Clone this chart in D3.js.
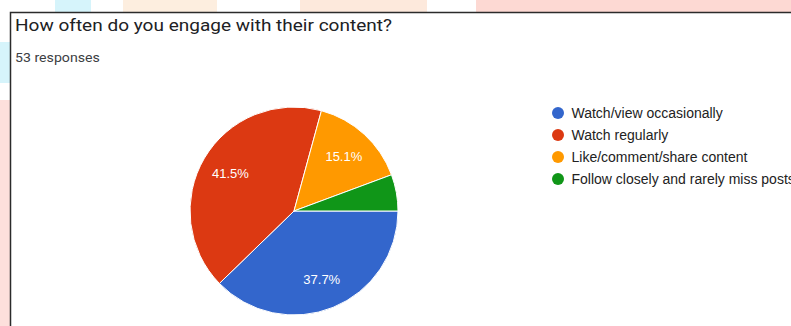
<!DOCTYPE html>
<html>
<head>
<meta charset="utf-8">
<script src="https://cdn.jsdelivr.net/npm/d3@7"></script>
<style>
  html, body { margin: 0; padding: 0; background: #fff; }
  svg { display: block; }
</style>
</head>
<body>
<svg id="chart" width="791" height="326"></svg>
<script>
// Survey answers and response counts
const categories = [
  "Watch/view occasionally",
  "Watch regularly",
  "Like/comment/share content",
  "Follow closely and rarely miss posts"
];
const counts = [20, 22, 8, 3];
const colors = ["#3366cc", "#dc3912", "#ff9900", "#109618"];
const title = "How often do you engage with their content?";
const subtitle = "53 responses";

const svg = d3.select("#chart");

// Pastel page background peeking around the card
const bgBlocks = [
  { x: 55, y: 0, w: 36, h: 12, c: "#d6f4fb" },
  { x: 123, y: 0, w: 94, h: 12, c: "#fdeedf" },
  { x: 300, y: 0, w: 127, h: 12, c: "#fde9dc" },
  { x: 476, y: 0, w: 315, h: 12, c: "#fdd9d3" },
  { x: 0, y: 42, w: 10, h: 41, c: "#d6f4fb" },
  { x: 0, y: 100, w: 10, h: 226, c: "#fde0dc" }
];
svg.selectAll("rect.bg").data(bgBlocks).join("rect")
  .attr("class", "bg")
  .attr("x", d => d.x).attr("y", d => d.y)
  .attr("width", d => d.w).attr("height", d => d.h)
  .attr("fill", d => d.c);

// Card frame
svg.append("rect")
  .attr("x", 10.5).attr("y", 12.5)
  .attr("width", 800).attr("height", 330)
  .attr("fill", "#fff")
  .attr("stroke", "#2b2b2b")
  .attr("stroke-width", 1.5);

// Header text (slightly wide rendering of the form's font)
svg.append("text")
  .attr("transform", "translate(15,30.5) scale(1.12,1)")
  .attr("font-family", "Roboto, sans-serif")
  .attr("font-size", 17)
  .attr("fill", "#202124")
  .text(title);

svg.append("text")
  .attr("transform", "translate(15,62) scale(1.09,1)")
  .attr("font-family", "Roboto, sans-serif")
  .attr("font-size", 13)
  .attr("fill", "#3c4043")
  .text(subtitle);

// Pie
const cx = 294, cy = 211, r = 104;
const total = d3.sum(counts);
const pie = d3.pie().sort(null)
  .startAngle(Math.PI / 2)
  .endAngle(Math.PI / 2 + 2 * Math.PI);
const arcs = pie(counts);
const arc = d3.arc().innerRadius(0).outerRadius(r);
const labelArc = d3.arc().innerRadius(r * 0.71).outerRadius(r * 0.71);

const g = svg.append("g").attr("transform", `translate(${cx},${cy})`);
g.selectAll("path").data(arcs).join("path")
  .attr("d", arc)
  .attr("fill", (d, i) => colors[i])
  .attr("stroke", "#fff")
  .attr("stroke-width", 1);

g.selectAll("text").data(arcs.filter(d => d.value / total > 0.1)).join("text")
  .attr("transform", d => `translate(${labelArc.centroid(d)})`)
  .attr("text-anchor", "middle")
  .attr("dy", "0.35em")
  .attr("font-family", "Arial, 'Liberation Sans', sans-serif")
  .attr("font-size", 13)
  .attr("fill", "#fff")
  .text(d => d3.format(".1%")(d.value / total));

// Legend
const legY = d3.scalePoint().domain(categories).range([113, 179]);
const leg = svg.append("g");
leg.selectAll("circle").data(categories).join("circle")
  .attr("cx", 558).attr("cy", d => legY(d))
  .attr("r", 6)
  .attr("fill", (d, i) => colors[i]);
leg.selectAll("text").data(categories).join("text")
  .attr("x", 571.5).attr("y", d => legY(d))
  .attr("dy", "0.36em")
  .attr("font-family", "Arial, 'Liberation Sans', sans-serif")
  .attr("font-size", 14)
  .attr("fill", "#222")
  .text(d => d);
</script>
</body>
</html>
